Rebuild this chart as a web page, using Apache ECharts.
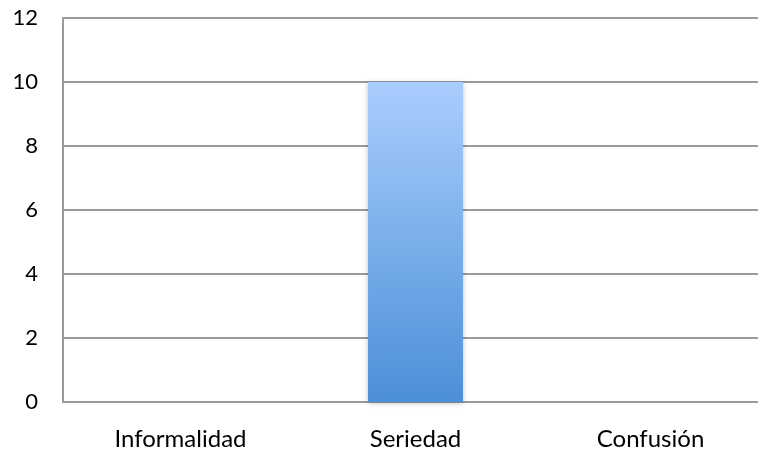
<!DOCTYPE html>
<html>
<head>
<meta charset="utf-8">
<script src="https://cdn.jsdelivr.net/npm/echarts@6/dist/echarts.min.js"></script>
<style>
  html, body { margin: 0; padding: 0; background: #fff; overflow: hidden; }
  #chart { width: 758px; height: 453px; }
</style>
</head>
<body>
<div id="chart"></div>
<script>
const categories = ['Informalidad', 'Seriedad', 'Confusión'];
const values = [0, 10, 0];
const yTicks = { min: 0, max: 12, interval: 2 };

const chart = echarts.init(document.getElementById('chart'));
chart.setOption({
  animation: false,
  // plot area runs slightly past the right edge of the canvas
  grid: { left: 63, width: 705, top: 18, bottom: 51, outerBoundsMode: 'none' },
  xAxis: {
    type: 'category',
    data: categories,
    axisLine: { lineStyle: { color: '#9a9a9a', width: 2 } },
    axisTick: { show: false },
    axisLabel: {
      color: '#000', fontSize: 24, margin: 25,
      fontFamily: 'Lato, "Open Sans", sans-serif'
    }
  },
  yAxis: {
    type: 'value',
    min: yTicks.min, max: yTicks.max, interval: yTicks.interval,
    axisLine: { show: true, lineStyle: { color: '#9a9a9a', width: 2 } },
    axisTick: { show: false },
    splitLine: { lineStyle: { color: '#9a9a9a', width: 2 } },
    axisLabel: {
      color: '#000', fontSize: 22, margin: 25,
      fontFamily: 'Lato, "Open Sans", sans-serif'
    }
  },
  series: [{
    type: 'bar',
    data: values,
    barWidth: '40.4%',
    itemStyle: {
      color: new echarts.graphic.LinearGradient(0, 0, 0, 1, [
        { offset: 0, color: '#aacefe' },
        { offset: 1, color: '#4b8fd7' }
      ]),
      shadowColor: 'rgba(0,0,0,0.25)',
      shadowBlur: 5,
      shadowOffsetY: 1
    }
  }]
});
</script>
</body>
</html>
